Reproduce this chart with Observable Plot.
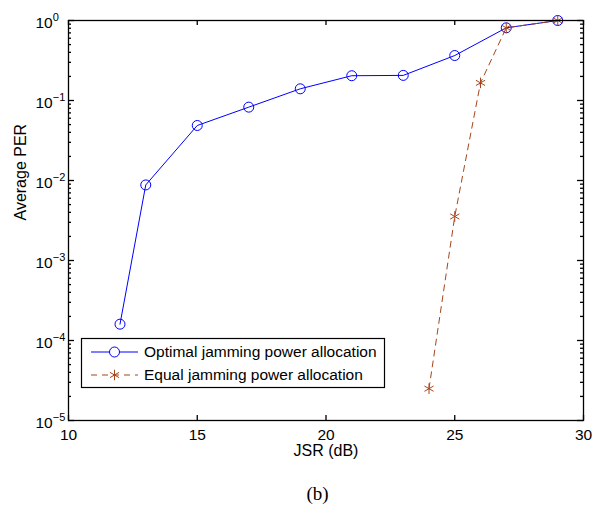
<!DOCTYPE html>
<html><head><meta charset="utf-8">
<script src="https://cdn.jsdelivr.net/npm/d3@7"></script>
<script src="https://cdn.jsdelivr.net/npm/@observablehq/plot@0.6"></script>
<style>body{margin:0;background:#fff;} #chart{width:592px;height:508px;}</style>
</head><body><div id="chart"></div>
<script>
// ---- data ----
const xTicks = [10, 15, 20, 25, 30];
const yMajorTicks = [1e-5, 1e-4, 1e-3, 1e-2, 1e-1, 1];
const minorMultipliers = [2, 3, 4, 5, 6, 7, 8, 9];
const optimalJSR = [12, 13, 15, 17, 19, 21, 23, 25, 27, 29];
const optimalPER = [1.6e-4, 8.8e-3, 0.0487, 0.0826, 0.14, 0.204, 0.206, 0.365, 0.81, 1.0];
const equalJSR = [24, 25, 26, 27, 29];
const equalPER = [2.5e-5, 3.55e-3, 0.166, 0.81, 1.0];
const seriesNames = ["Optimal jamming power allocation", "Equal jamming power allocation"];
const xLabel = "JSR (dB)";
const yLabel = "Average PER";
const caption = "(b)";

const blue = "#0000ff";
const brown = "#a5451b";
const W = 592, H = 508, mL = 68, mR = 9, mT = 20, mB = 88;
const frameW = W - mL - mR, frameH = H - mT - mB;
const yMinorTicks = yMajorTicks.slice(0, -1).flatMap(d => minorMultipliers.map(k => k * d));
const optimal = optimalJSR.map((x, i) => ({x, y: optimalPER[i]}));
const equal = equalJSR.map((x, i) => ({x, y: equalPER[i]}));
const tickStyle = {stroke: "#000", strokeWidth: 1.3};

const chart = Plot.plot({
  width: W, height: H,
  marginLeft: mL, marginRight: mR, marginTop: mT, marginBottom: mB,
  style: {fontFamily: "'Liberation Sans', Arial, sans-serif", fontSize: "15.5px", color: "#000", background: "#fff"},
  x: {domain: [10, 30]},
  y: {type: "log", domain: [1e-5, 1]},
  marks: [
    Plot.axisX({anchor: "bottom", ticks: xTicks, tickSize: 0, tickPadding: 8, label: null, fontSize: 15.5}),
    Plot.axisY({anchor: "left", ticks: yMajorTicks, tickSize: 0, tickPadding: 33, textAnchor: "start", fontSize: 15.5,
      tickFormat: d => String(Math.round(Math.log10(d))), label: null}),
    // inward ticks
    Plot.tickX(xTicks, {x: d => d, insetTop: frameH - 5, ...tickStyle}),
    Plot.tickX(xTicks, {x: d => d, insetBottom: frameH - 5, ...tickStyle}),
    Plot.tickY(yMajorTicks, {y: d => d, insetRight: frameW - 6, ...tickStyle}),
    Plot.tickY(yMajorTicks, {y: d => d, insetLeft: frameW - 6, ...tickStyle}),
    Plot.tickY(yMinorTicks, {y: d => d, insetRight: frameW - 3, ...tickStyle}),
    Plot.tickY(yMinorTicks, {y: d => d, insetLeft: frameW - 3, ...tickStyle}),
    Plot.line(optimal, {x: "x", y: "y", stroke: blue, strokeWidth: 1}),
    Plot.dot(optimal, {x: "x", y: "y", r: 5, symbol: "circle", stroke: blue, fill: "none", strokeWidth: 1}),
    Plot.line(equal, {x: "x", y: "y", stroke: brown, strokeWidth: 1, strokeDasharray: "6,5"}),
    Plot.dot(equal, {x: "x", y: "y", r: 5, symbol: "asterisk", stroke: brown, strokeWidth: 1}),
    Plot.frame({stroke: "#000", strokeWidth: 1.3}),
    Plot.text([xLabel], {text: d => d, frameAnchor: "bottom", dy: 35, fontSize: 16}),
    Plot.text([yLabel], {text: d => d, frameAnchor: "left", dx: -48, rotate: -90, fontSize: 16}),
    Plot.text([caption], {text: d => d, frameAnchor: "bottom", dx: -8.5, dy: 79, fontSize: 19,
      fontFamily: "'Liberation Serif', 'Times New Roman', serif"})
  ]
});

const svg = d3.select(chart);
// superscript exponents on the y tick labels
svg.selectAll('g[aria-label="y-axis tick label"] text').each(function() {
  const t = this.textContent;
  if (!t) return;
  const s = d3.select(this);
  s.text(null).attr("y", 7);
  s.append("tspan").text("10");
  s.append("tspan").attr("dy", -7).attr("font-size", 11).text(t.replace("-", "\u2212"));
});

// legend
const lg = svg.append("g").attr("font-size", 15.5).attr("text-anchor", "start")
  .attr("font-family", "'Liberation Sans', Arial, sans-serif");
lg.append("rect").attr("x", 81.5).attr("y", 338.5).attr("width", 303).attr("height", 49)
  .attr("fill", "#fff").attr("stroke", "#000").attr("stroke-width", 1.2);
const rows = [
  {name: seriesNames[0], color: blue, dash: null, symbol: d3.symbolCircle, y: 352},
  {name: seriesNames[1], color: brown, dash: "6,5", symbol: d3.symbolAsterisk, y: 375}
];
rows.forEach(r => {
  lg.append("line").attr("x1", 91).attr("x2", 138).attr("y1", r.y).attr("y2", r.y)
    .attr("stroke", r.color).attr("stroke-dasharray", r.dash).attr("stroke-width", 1);
  lg.append("path").attr("transform", `translate(114.5,${r.y})`)
    .attr("d", d3.symbol(r.symbol, Math.PI * 25)())
    .attr("fill", r.dash ? "none" : "#fff").attr("stroke", r.color).attr("stroke-width", 1);
  lg.append("text").attr("x", 144).attr("y", r.y + 5).attr("text-anchor", "start").text(r.name);
});

document.getElementById("chart").append(chart);
</script>
</body></html>
